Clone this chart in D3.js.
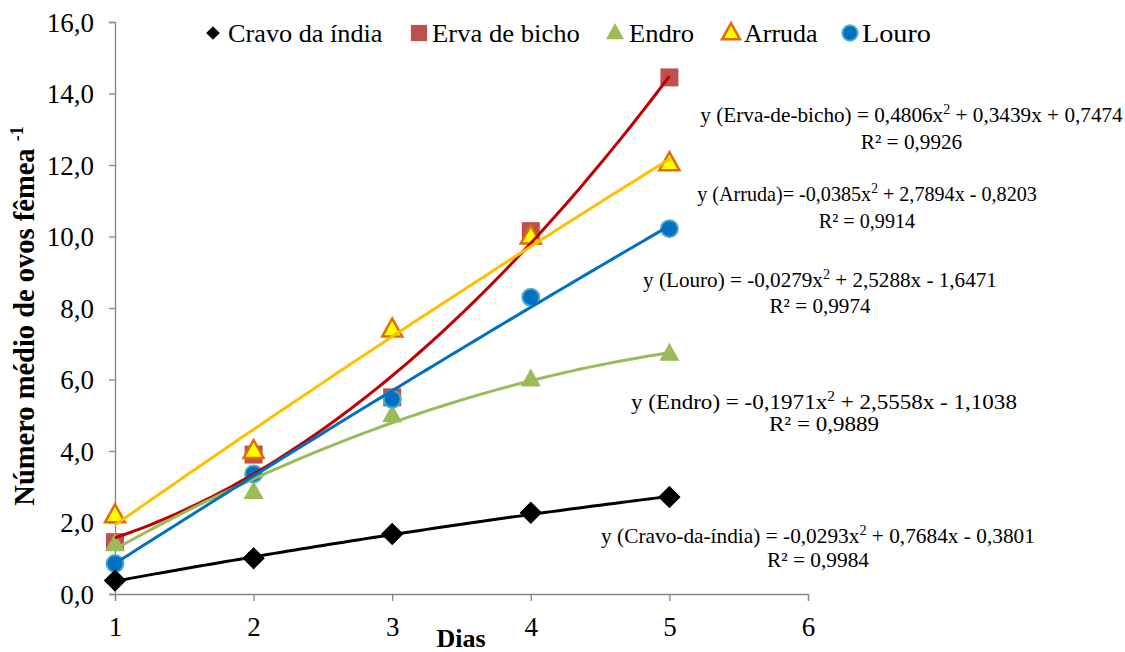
<!DOCTYPE html>
<html><head><meta charset="utf-8">
<script src="https://cdn.jsdelivr.net/npm/d3@7"></script>
<style>body{margin:0;background:#fff}svg{font-family:"Liberation Serif","Times New Roman",serif}</style>
</head><body>
<svg id="c" width="1125" height="652"></svg>
<script>
const days = [1, 2, 3, 4, 5];
const cravo = [0.38, 1.0, 1.68, 2.27, 2.71];
const erva = [1.45, 3.9, 5.5, 10.15, 14.45];
const endro = [1.4, 2.85, 5.0, 6.0, 6.72];
const arruda = [2.2, 4.0, 7.4, 10.0, 12.05];
const louro = [0.85, 3.36, 5.45, 8.3, 10.22];
const xTicks = [1, 2, 3, 4, 5, 6];
const yTicks = [0, 2, 4, 6, 8, 10, 12, 14, 16];
// trendline coefficients [a, b, c] for y = a x^2 + b x + c (as printed)
const coefCravo = [-0.0293, 0.7684, -0.3801];
const coefErva = [0.4806, 0.3439, 0.7474];
const coefEndro = [-0.1971, 2.5558, -1.1038];
const coefArruda = [-0.0385, 2.7894, -0.8203];
const coefLouro = [-0.0279, 2.5288, -1.6471];
const eqLabels = [
  {pre:"y (Erva-de-bicho) = 0,4806x", post:" + 0,3439x + 0,7474", r2:"R² = 0,9926"},
  {pre:"y (Arruda)= -0,0385x", post:" + 2,7894x - 0,8203", r2:"R² = 0,9914"},
  {pre:"y (Louro) = -0,0279x", post:" + 2,5288x - 1,6471", r2:"R² = 0,9974"},
  {pre:"y (Endro) = -0,1971x", post:" + 2,5558x - 1,1038", r2:"R² = 0,9889"},
  {pre:"y (Cravo-da-índia) = -0,0293x", post:" + 0,7684x - 0,3801", r2:"R² = 0,9984"}
];
const legendNames = ["Cravo da índia", "Erva de bicho", "Endro", "Arruda", "Louro"];

const svg = d3.select("#c");
const x = d3.scaleLinear().domain([1, 6]).range([115, 808]);
const y = d3.scaleLinear().domain([0, 16]).range([594, 22]);

function fit(sel, target, tx, ty) {
  const w = sel.node().getBBox().width;
  const sx = Math.max(0.9, Math.min(1.1, target / w));
  sel.attr("transform", `translate(${tx},${ty}) scale(${sx},1)`);
  return sx;
}

const axisColor = "#868686";
const ya = svg.append("g").attr("transform", "translate(115,0)")
  .call(d3.axisLeft(y).tickValues(yTicks).tickSize(6).tickPadding(15).tickFormat(d => d3.format(".1f")(d).replace(".", ",")));
ya.select(".domain").attr("stroke", axisColor).attr("stroke-width", 1.3);
ya.selectAll(".tick line").attr("stroke", axisColor).attr("stroke-width", 1.3);
ya.selectAll(".tick text").attr("font-family", "Liberation Serif").attr("font-size", 27).attr("fill", "#000").attr("dy", "0.34em");

const xa = svg.append("g").attr("transform", "translate(0,594)")
  .call(d3.axisBottom(x).tickValues(xTicks).tickSize(7).tickPadding(0).tickFormat(d3.format("d")));
xa.select(".domain").attr("stroke", axisColor).attr("stroke-width", 1.3);
xa.selectAll(".tick line").attr("stroke", axisColor).attr("stroke-width", 1.3);
xa.selectAll(".tick text").attr("font-family", "Liberation Serif").attr("font-size", 27).attr("fill", "#000")
  .attr("y", 42).attr("dy", 0);

// titles
svg.append("text").attr("x", 461).attr("y", 647).attr("text-anchor", "middle")
  .attr("font-weight", "bold").attr("font-size", 26).text("Dias");
const yt = svg.append("text").attr("text-anchor", "middle").attr("font-weight", "bold").attr("font-size", 28.5)
  .attr("transform", "translate(34,316) rotate(-90)");
yt.append("tspan").text("Número médio de ovos fêmea ");
yt.append("tspan").attr("dy", -11).attr("font-size", 18).text("-1");

const series = [
  {name:"Cravo", data:cravo, coef:coefCravo, line:"#000000", marker:"diamond", fill:"#000", stroke:"none"},
  {name:"Erva", data:erva, coef:coefErva, line:"#C00000", marker:"square", fill:"#C0504D", stroke:"none"},
  {name:"Endro", data:endro, coef:coefEndro, line:"#9BBB59", marker:"triangle", fill:"#9BBB59", stroke:"none"},
  {name:"Arruda", data:arruda, coef:coefArruda, line:"#FFC000", marker:"triangle", fill:"#FFFF00", stroke:"#E36C09"},
  {name:"Louro", data:louro, coef:coefLouro, line:"#0070C0", marker:"circle", fill:"#0070C0", stroke:"#4BACC6"}
];

function markerPath(type, k) {
  if (type === "diamond") return `M0,${-11*k}L${11*k},0L0,${11*k}L${-11*k},0Z`;
  if (type === "square") return `M${-9*k},${-9*k}H${9*k}V${9*k}H${-9*k}Z`;
  if (type === "triangle") return `M0,${-11*k}L${10*k},${7*k}H${-10*k}Z`;
  return d3.arc()({innerRadius:0, outerRadius:8.5*k, startAngle:0, endAngle:2*Math.PI});
}
function drawMarker(g, s, cx, cy, k) {
  const p = g.append("path").attr("d", markerPath(s.marker, k)).attr("transform", `translate(${cx},${cy})`)
    .attr("fill", s.fill).attr("stroke", s.stroke);
  if (s.stroke !== "none") p.attr("stroke-width", s.marker === "triangle" ? 2.5 : 2);
}

const mg = svg.append("g");
series.forEach(s => s.data.forEach((v, i) => drawMarker(mg, s, x(days[i]), y(v), 1)));
const samples = d3.range(1, 5.001, 0.05);
const line = d3.line().x(d => x(d[0])).y(d => y(d[1]));
series.forEach(s => {
  const pts = samples.map(t => [t, s.coef[0] * t * t + s.coef[1] * t + s.coef[2]]);
  svg.append("path").attr("d", line(pts)).attr("fill", "none").attr("stroke", s.line).attr("stroke-width", 3);
});
series.slice(0, 1).forEach(s => s.data.forEach((v, i) => drawMarker(svg, s, x(days[i]), y(v), 1)));

// legend
const legX = [[213, 228, 155], [419, 432, 148], [615, 629, 65], [731, 744, 74], [850, 862, 69]];
series.forEach((s, i) => {
  drawMarker(svg, s, legX[i][0], 33, s.marker === "diamond" ? 0.62 : 0.9);
  const t = svg.append("text").attr("font-size", 26).text(legendNames[i]);
  fit(t, legX[i][2], legX[i][1], 42);
});

// equations
const eqPos = [[700, 1123, 122, 149], [697, 1037, 201, 228], [643, 997, 287, 313], [631, 1017, 409, 431], [601, 1035, 543, 567]];
eqLabels.forEach((e, i) => {
  const [x0, x1, y1, y2] = eqPos[i];
  const cx = (x0 + x1) / 2;
  const t = svg.append("text").attr("text-anchor", "middle").attr("font-size", 21);
  t.append("tspan").text(e.pre);
  t.append("tspan").attr("dy", -8).attr("font-size", 14).text("2");
  t.append("tspan").attr("dy", 8).text(e.post);
  const sx = fit(t, x1 - x0, cx, y1);
  svg.append("text").attr("text-anchor", "middle").attr("font-size", 21).text(e.r2)
    .attr("transform", `translate(${cx},${y2}) scale(${sx},1)`);
});
</script>
</body></html>
